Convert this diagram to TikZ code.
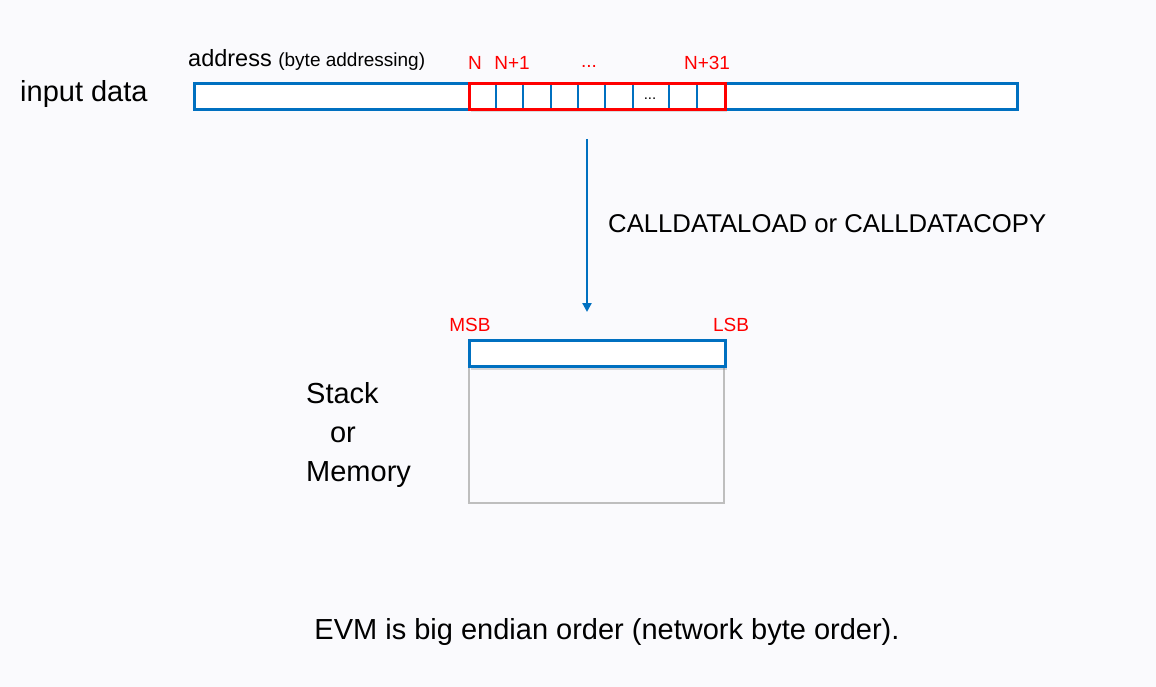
\documentclass[tikz,border=0pt]{standalone}
\usepackage{fontspec}
\setmainfont{Liberation Sans}
\usepackage{xcolor}
\usetikzlibrary{arrows.meta, positioning, shadows}

\definecolor{evmblue}{RGB}{0,112,192}
\definecolor{evmred}{RGB}{255,0,0}
\definecolor{evmgray}{RGB}{190,190,190}
\definecolor{evmbg}{RGB}{250,250,253}

\begin{document}
\begin{tikzpicture}[
  x=1pt, y=-1pt,
  label/.style={inner sep=0pt, anchor=west, text=black},
  redlabel/.style={inner sep=0pt, text=evmred, font=\fontsize{19}{22}\selectfont},
  bytebar/.style={draw=evmblue, line width=3pt, fill=white},
  bytecell/.style={draw=evmblue, line width=2.6pt},
  wordbox/.style={draw=evmred, line width=3pt, drop shadow={opacity=0.25, shadow xshift=2pt, shadow yshift=-2pt}},
  topslot/.style={draw=evmblue, line width=3pt, fill=white, drop shadow={opacity=0.3, shadow xshift=2pt, shadow yshift=-3pt}},
  slotbody/.style={draw=evmgray, line width=1.5pt},
  loadarrow/.style={-{Triangle[length=9pt, width=9pt]}, evmblue, line width=2.4pt}
]
\fill[evmbg] (0,0) rectangle (1156,687);
\useasboundingbox (0,0) rectangle (1156,687);

% input data bar
\node[label, font=\fontsize{29}{34}\selectfont] (input) at (20,94) {input data};
\node[label, font=\fontsize{23.5}{28}\selectfont] (addr) at (188,60) {address {\fontsize{19}{22}\selectfont(byte addressing)}};
\draw[bytebar] (194,84) rectangle (1017,110);

% the 32 bytes read
\fill[white, wordbox] (469,84) rectangle (725,110);
\foreach \x in {496,523,551,578,605,633,669,697}
  \draw[bytecell] (\x,85.5) -- (\x,108.5);
\node[inner sep=0pt, font=\fontsize{15}{18}\selectfont] (cdots) at (650,99) {...};
\draw[evmred, line width=3pt] (469,84) rectangle (725,110);
\node[redlabel] (n0) at (475,63) {N};
\node[redlabel] (n1) at (512,63) {N+1};
\node[redlabel] (ndots) at (589,66) {...};
\node[redlabel] (n31) at (707,63) {N+31};

% load
\coordinate (arrtop) at (587,139);
\coordinate (arrbot) at (587,312);
\draw[loadarrow] (arrtop) -- (arrbot);
\node[label, font=\fontsize{25.7}{30}\selectfont] (op) at (608,224) {CALLDATALOAD or CALLDATACOPY};

% stack or memory
\draw[slotbody, fill=evmbg] (469,367) rectangle (724,503);
\node[topslot, minimum width=256pt, minimum height=26pt, inner sep=0pt] (word) at (597,353.5) {};
\node[redlabel] (msb) at (470,325) {MSB};
\node[redlabel] (lsb) at (731,325) {LSB};
\node[label, font=\fontsize{29}{34}\selectfont] (stack) at (306,393) {Stack};
\node[inner sep=0pt, font=\fontsize{29}{34}\selectfont] (or) at (343,435) {or};
\node[label, font=\fontsize{29}{34}\selectfont] (mem) at (306,475) {Memory};

\node[inner sep=0pt, font=\fontsize{29}{34}\selectfont] (note) at (607,632) {EVM is big endian order (network byte order).};
\end{tikzpicture}
\end{document}
